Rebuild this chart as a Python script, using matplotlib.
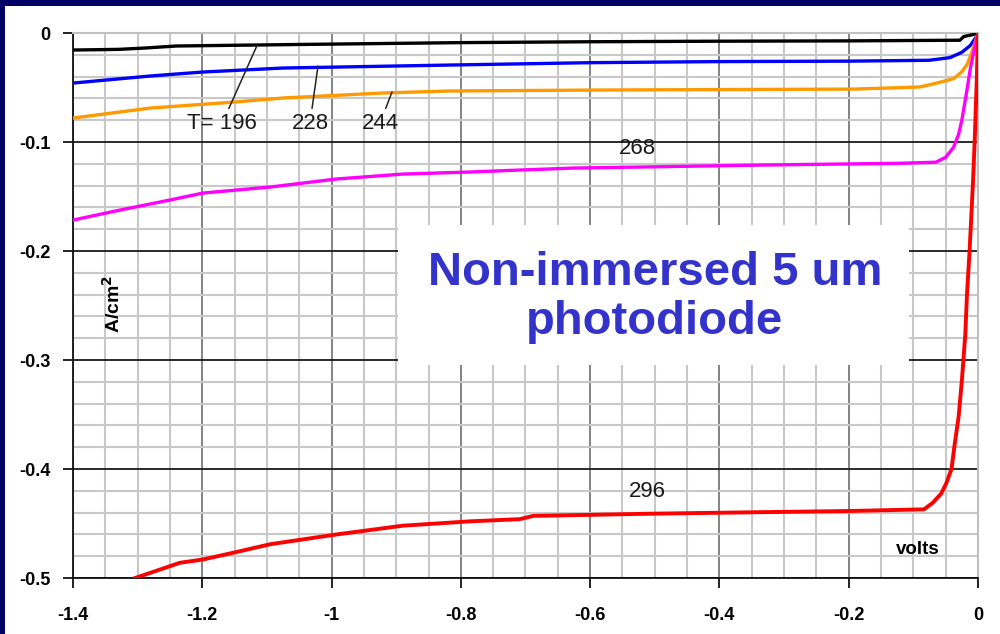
import matplotlib
matplotlib.use("Agg")
import matplotlib.pyplot as plt
from matplotlib.ticker import MultipleLocator, FuncFormatter
from matplotlib.patches import Rectangle

plt.rcParams['font.family'] = ['Liberation Sans', 'DejaVu Sans']

# ---- data (volts, A/cm^2) ----
black_v = [-1.40, -1.33, -1.29, -1.24, -1.05, -0.80, -0.60, -0.40, -0.20, -0.028, -0.022, -0.009, 0.0]
black_i = [-0.0156, -0.0150, -0.0138, -0.0119, -0.0105, -0.0088, -0.0080, -0.0075, -0.0072, -0.0066, -0.0032, -0.0016, 0.0]

blue_v = [-1.40, -1.28, -1.20, -1.075, -0.82, -0.60, -0.40, -0.20, -0.0755, -0.0436, -0.025, -0.0117, -0.002, 0.0]
blue_i = [-0.0459, -0.0394, -0.0358, -0.0321, -0.0294, -0.0272, -0.0262, -0.0258, -0.0250, -0.0226, -0.0177, -0.0113, -0.003, 0.0]

orange_v = [-1.40, -1.28, -1.15, -1.075, -0.92, -0.82, -0.585, -0.19, -0.09, -0.070, -0.038, -0.025, -0.017, -0.0106, -0.005, -0.001, 0.0]
orange_i = [-0.078, -0.0688, -0.0633, -0.0596, -0.055, -0.0532, -0.0523, -0.0514, -0.0495, -0.0468, -0.042, -0.0355, -0.029, -0.0194, -0.0097, -0.002, 0.0]

magenta_v = [-1.40, -1.327, -1.25, -1.199, -1.095, -0.992, -0.89, -0.786, -0.709, -0.627, -0.518, -0.333, -0.121,
             -0.065, -0.050, -0.038, -0.030, -0.025, -0.017, -0.0117, -0.005, 0.0]
magenta_i = [-0.1716, -0.1624, -0.1532, -0.1468, -0.1413, -0.1339, -0.1294, -0.1275, -0.1257, -0.1239, -0.1229, -0.1211, -0.1195,
             -0.1185, -0.1140, -0.105, -0.093, -0.080, -0.052, -0.032, -0.013, 0.0]

red_v = [-1.304, -1.2345, -1.199, -1.146, -1.095, -0.992, -0.89, -0.786, -0.709, -0.688, -0.507, -0.326, -0.198, -0.0835,
         -0.070, -0.057, -0.049, -0.041, -0.036, -0.030, -0.025, -0.0197, -0.017, -0.0133, -0.0106, -0.0074, -0.0048, -0.002, 0.0]
red_i = [-0.500, -0.486, -0.483, -0.476, -0.469, -0.460, -0.452, -0.448, -0.446, -0.443, -0.441, -0.4395, -0.4385, -0.437,
         -0.431, -0.4226, -0.413, -0.400, -0.377, -0.352, -0.319, -0.277, -0.239, -0.203, -0.171, -0.132, -0.0935, -0.045, 0.0]

temps = ["T= 196", "228", "244", "268", "296"]
title_text = "Non-immersed 5 um\nphotodiode"

fig = plt.figure(figsize=(10, 6.34), dpi=100)
fig.patch.set_facecolor('#000066')
bg = Rectangle((5/1000, 0), 995/1000, 628/634, transform=fig.transFigure,
               facecolor='white', edgecolor='none', zorder=-10)
fig.add_artist(bg)

ax = fig.add_axes([0.073, 0.0883, 0.905, 0.8596])
ax.set_zorder(5)
ax.set_facecolor('white')
ax.set_xlim(-1.4, 0)
ax.set_ylim(-0.5, 0)

ax.xaxis.set_major_locator(MultipleLocator(0.2))
ax.xaxis.set_minor_locator(MultipleLocator(0.05))
ax.yaxis.set_major_locator(MultipleLocator(0.1))
ax.yaxis.set_minor_locator(MultipleLocator(0.02))

ax.grid(which='minor', color='#c8c8c8', linewidth=1.5, zorder=0)
ax.grid(which='major', axis='x', color='#7a7a7a', linewidth=1.3, zorder=0.5)
ax.grid(which='major', axis='y', color='#1a1a1a', linewidth=1.3, zorder=0.5)
ax.set_axisbelow(True)

for s in ['top', 'right']:
    ax.spines[s].set_color('#c0c0c0')
    ax.spines[s].set_linewidth(1.5)
for s in ['left', 'bottom']:
    ax.spines[s].set_color('#111111')
    ax.spines[s].set_linewidth(1.3)

def fmt(v, pos):
    if abs(v) < 1e-9:
        return "0"
    s = ("%.1f" % v)
    if s.endswith(".0"):
        s = s[:-2]
    return s

ax.xaxis.set_major_formatter(FuncFormatter(fmt))
ax.yaxis.set_major_formatter(FuncFormatter(fmt))
ax.tick_params(which='major', direction='out', length=7, width=1.3, color='#111111',
               labelsize=13)
ax.tick_params(axis='x', which='major', pad=14)
ax.tick_params(axis='y', which='major', pad=9)
ax.tick_params(which='minor', length=0)
for lab in ax.get_xticklabels() + ax.get_yticklabels():
    lab.set_fontweight('bold')

# white box behind title text
ax.add_patch(Rectangle((-0.897, -0.3046), 0.790, 0.1286, facecolor='white',
                       edgecolor='none', zorder=2))

lw = 2.4
ax.plot(black_v, black_i, color='black', lw=lw, zorder=3)
ax.plot(blue_v, blue_i, color='#0000ff', lw=lw, zorder=3)
ax.plot(orange_v, orange_i, color='#ff9900', lw=lw, zorder=3)
ax.plot(magenta_v, magenta_i, color='#ff00ff', lw=lw, zorder=3)
ax.plot(red_v, red_i, color='#ff0000', lw=2.8, zorder=4)

ann = dict(fontsize=16, color='#1a1a1a', ha='center', va='center', zorder=5)
arrow = dict(arrowstyle='-', color='#222222', lw=1.1, shrinkA=1, shrinkB=0)
ax.annotate(temps[0], xy=(-1.115, -0.011), xytext=(-1.169, -0.0826), arrowprops=arrow, **ann)
ax.annotate(temps[1], xy=(-1.021, -0.0303), xytext=(-1.0334, -0.0826), arrowprops=arrow, **ann)
ax.annotate(temps[2], xy=(-0.9065, -0.0541), xytext=(-0.925, -0.0826), arrowprops=arrow, **ann)
ax.text(-0.5275, -0.1055, temps[3], **ann)
ax.text(-0.512, -0.421, temps[4], **ann)

ax.text(-0.500, -0.243, title_text, fontsize=34, fontweight='bold', color='#3333cc',
        ha='center', va='center', linespacing=1.15, zorder=5)

ax.text(-1.338, -0.2486, "A/cm$^\\mathbf{2}$", rotation=90, fontsize=14, fontweight='bold',
        ha='center', va='center', zorder=5)
ax.text(-0.0928, -0.474, "volts", fontsize=13.5, fontweight='bold', ha='center', va='center', zorder=5)

fig.savefig("out.png", dpi=100, facecolor=fig.get_facecolor())
